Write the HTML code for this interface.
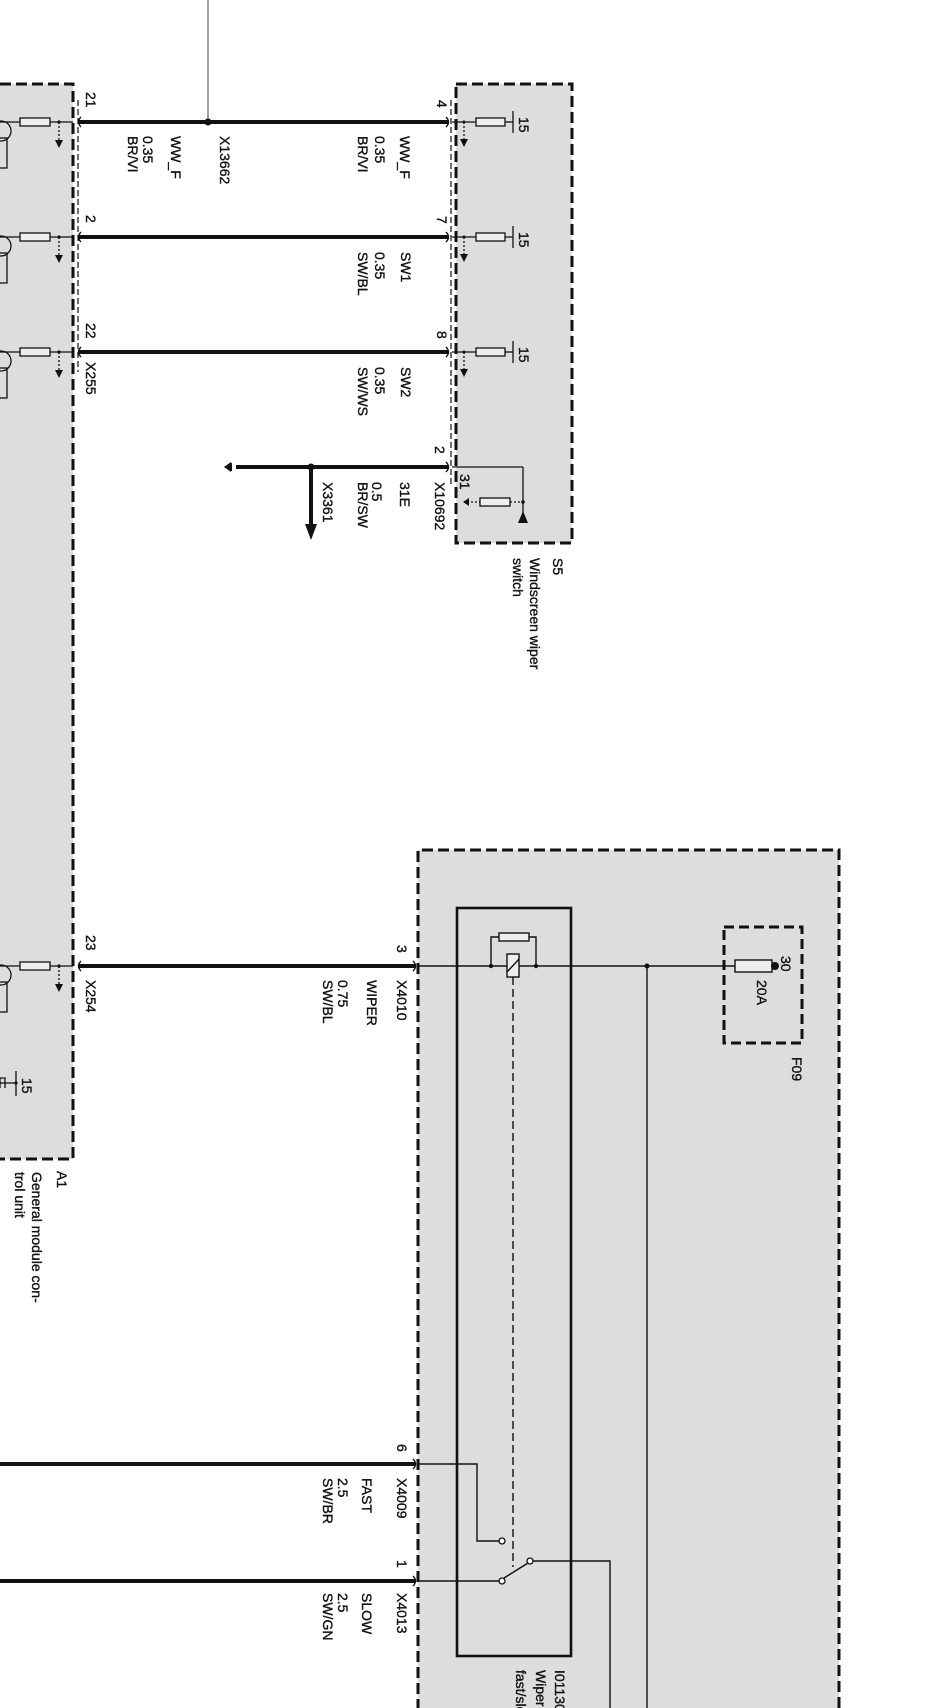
<!DOCTYPE html>
<html>
<head>
<meta charset="utf-8">
<style>
  html,body{margin:0;padding:0;background:#fff;}
  svg{display:block;}
  text{font-family:"Liberation Sans",Arial,sans-serif;font-size:14px;fill:#111;stroke:#111;stroke-width:0.35;}
</style>
</head>
<body>
<svg width="948" height="1708" viewBox="0 0 948 1708" xmlns="http://www.w3.org/2000/svg">
  <!-- ===== A1 box ===== -->
  <rect x="-5" y="84" width="78" height="1075" fill="#dddddd"/>
  <path d="M0 84 H73 V1159 H0" fill="none" stroke="#111" stroke-width="3" stroke-dasharray="11 5"/>

  <!-- A1 internal pin circuits -->
  <g stroke="#111" stroke-width="1.3" fill="none">
    <line x1="0" y1="122" x2="73" y2="122"/>
    <circle cx="1" cy="131" r="10"/>
    <rect x="-2" y="138" width="9" height="30"/>
    <rect x="20" y="118" width="30" height="8" fill="#eeeeee"/>
    <line x1="59" y1="122" x2="59" y2="140" stroke-dasharray="2 2"/>
    <line x1="0" y1="237" x2="73" y2="237"/>
    <circle cx="1" cy="246" r="10"/>
    <rect x="-2" y="253" width="9" height="30"/>
    <rect x="20" y="233" width="30" height="8" fill="#eeeeee"/>
    <line x1="59" y1="237" x2="59" y2="255" stroke-dasharray="2 2"/>
    <line x1="0" y1="352" x2="73" y2="352"/>
    <circle cx="1" cy="361" r="10"/>
    <rect x="-2" y="368" width="9" height="30"/>
    <rect x="20" y="348" width="30" height="8" fill="#eeeeee"/>
    <line x1="59" y1="352" x2="59" y2="370" stroke-dasharray="2 2"/>
    <line x1="0" y1="966" x2="73" y2="966"/>
    <circle cx="1" cy="975" r="10"/>
    <rect x="-2" y="982" width="9" height="30"/>
    <rect x="20" y="962" width="30" height="8" fill="#eeeeee"/>
    <line x1="59" y1="966" x2="59" y2="984" stroke-dasharray="2 2"/>
    <line x1="0" y1="1083" x2="16" y2="1083"/>
    <line x1="16" y1="1071" x2="16" y2="1096"/>
    <path d="M0 1088 V1078 H5 V1088"/>
  </g>
  <g fill="#111">
    <polygon points="55,140 63,140 59,148"/>
    <polygon points="55,255 63,255 59,263"/>
    <polygon points="55,370 63,370 59,378"/>
    <polygon points="55,984 63,984 59,992"/>
    <circle cx="59" cy="122" r="1.6"/>
    <circle cx="59" cy="237" r="1.6"/>
    <circle cx="59" cy="352" r="1.6"/>
    <circle cx="59" cy="966" r="1.6"/>
    <circle cx="16" cy="1083" r="1.6"/>
  </g>

  <line x1="78" y1="100" x2="78" y2="372" stroke="#111" stroke-width="1.2" stroke-dasharray="6 3"/>
  <line x1="451" y1="100" x2="451" y2="485" stroke="#111" stroke-width="1.2" stroke-dasharray="6 3"/>

  <!-- ===== S5 box ===== -->
  <rect x="456" y="84" width="116" height="459" fill="#dddddd"/>
  <rect x="456" y="84" width="116" height="459" fill="none" stroke="#111" stroke-width="3" stroke-dasharray="11 5"/>

  <g stroke="#111" stroke-width="1.3" fill="none">
    <line x1="452" y1="122" x2="476" y2="122"/>
    <rect x="476" y="118" width="29" height="8" fill="#eeeeee"/>
    <line x1="505" y1="122" x2="513" y2="122"/>
    <line x1="513" y1="111" x2="513" y2="133"/>
    <line x1="464" y1="122" x2="464" y2="139" stroke-dasharray="2 2"/>
    <line x1="452" y1="237" x2="476" y2="237"/>
    <rect x="476" y="233" width="29" height="8" fill="#eeeeee"/>
    <line x1="505" y1="237" x2="513" y2="237"/>
    <line x1="513" y1="226" x2="513" y2="248"/>
    <line x1="464" y1="237" x2="464" y2="254" stroke-dasharray="2 2"/>
    <line x1="452" y1="352" x2="476" y2="352"/>
    <rect x="476" y="348" width="29" height="8" fill="#eeeeee"/>
    <line x1="505" y1="352" x2="513" y2="352"/>
    <line x1="513" y1="341" x2="513" y2="363"/>
    <line x1="464" y1="352" x2="464" y2="369" stroke-dasharray="2 2"/>
    <line x1="452" y1="467" x2="523" y2="467"/>
    <line x1="523" y1="467" x2="523" y2="514"/>
    <line x1="467" y1="502" x2="480" y2="502" stroke-dasharray="2 2"/>
    <rect x="480" y="498" width="30" height="8" fill="#eeeeee"/>
    <line x1="510" y1="502" x2="523" y2="502" stroke-dasharray="2 2"/>
  </g>
  <g fill="#111">
    <polygon points="460,139 468,139 464,147"/>
    <polygon points="460,254 468,254 464,262"/>
    <polygon points="460,369 468,369 464,377"/>
    <polygon points="518,523 528,523 523,511"/>
    <polygon points="463,502 469,498 469,506"/>
    <circle cx="523" cy="502" r="1.8"/>
    <circle cx="464" cy="122" r="1.5"/>
    <circle cx="464" cy="237" r="1.5"/>
    <circle cx="464" cy="352" r="1.5"/>
  </g>

  <!-- ===== Wiper relay box ===== -->
  <rect x="418" y="850" width="421" height="870" fill="#dddddd"/>
  <path d="M418 1710 V850 H839 V1710" fill="none" stroke="#111" stroke-width="3" stroke-dasharray="11 5"/>
  <rect x="457" y="908" width="114" height="748" fill="none" stroke="#111" stroke-width="2.6"/>

  <g stroke="#111" stroke-width="1.4" fill="none">
    <line x1="418" y1="966" x2="735" y2="966"/>
    <line x1="647" y1="966" x2="647" y2="1710"/>
    <path d="M491 966 V937 H499"/>
    <path d="M536 966 V937 H529"/>
    <rect x="499" y="933" width="30" height="8" fill="#eeeeee"/>
    <rect x="507" y="954" width="12" height="23" fill="#eeeeee"/>
    <line x1="507" y1="972" x2="519" y2="959"/>
    <line x1="513" y1="977" x2="513" y2="1567" stroke-dasharray="8 4"/>
    <path d="M418 1464 H477 V1541 H499"/>
    <line x1="418" y1="1581" x2="499" y2="1581"/>
    <line x1="504" y1="1578" x2="528" y2="1563"/>
    <path d="M533 1561 H610 V1710"/>
  </g>
  <g fill="#fff" stroke="#111" stroke-width="1.3">
    <circle cx="502" cy="1541" r="3"/>
    <circle cx="502" cy="1581" r="3"/>
    <circle cx="530" cy="1561" r="3"/>
  </g>
  <g fill="#111">
    <circle cx="647" cy="966" r="2.5"/>
    <circle cx="491" cy="966" r="2.2"/>
    <circle cx="536" cy="966" r="2.2"/>
  </g>

  <!-- Fuse F09 -->
  <rect x="724" y="927" width="78" height="116" fill="none" stroke="#111" stroke-width="3" stroke-dasharray="10 5"/>
  <rect x="735" y="960" width="37" height="12" fill="#eeeeee" stroke="#111" stroke-width="1.4"/>
  <circle cx="775" cy="966" r="4" fill="#111"/>

  <!-- ===== Thick wires ===== -->
  <g stroke="#111" stroke-width="4" fill="none">
    <line x1="79" y1="122" x2="448" y2="122"/>
    <line x1="79" y1="237" x2="448" y2="237"/>
    <line x1="79" y1="352" x2="448" y2="352"/>
    <line x1="236" y1="467" x2="448" y2="467"/>
    <line x1="311" y1="467" x2="311" y2="526"/>
    <line x1="79" y1="966" x2="415" y2="966"/>
    <line x1="0" y1="1464" x2="415" y2="1464"/>
    <line x1="0" y1="1581" x2="415" y2="1581"/>
  </g>
  <line x1="208" y1="0" x2="208" y2="120" stroke="#888" stroke-width="1.6"/>
  <circle cx="208" cy="122" r="3.5" fill="#111"/>
  <circle cx="311" cy="467" r="3.5" fill="#111"/>
  <polygon points="305,524 317,524 311,540" fill="#111"/>
  <polygon points="224,467 231,462 231,472" fill="#111"/>
  <line x1="231" y1="463" x2="231" y2="471" stroke="#111" stroke-width="2"/>

  <g stroke="#111" stroke-width="1.4" fill="none">
    <path d="M81 117 Q76 122 81 127"/>
    <path d="M81 232 Q76 237 81 242"/>
    <path d="M81 347 Q76 352 81 357"/>
    <path d="M81 961 Q76 966 81 971"/>
    <path d="M446 117 Q451 122 446 127"/>
    <path d="M446 232 Q451 237 446 242"/>
    <path d="M446 347 Q451 352 446 357"/>
    <path d="M446 462 Q451 467 446 472"/>
    <path d="M413 961 Q418 966 413 971"/>
    <path d="M413 1459 Q418 1464 413 1469"/>
    <path d="M413 1576 Q418 1581 413 1586"/>
  </g>

  <!-- ===== Labels ===== -->
  <g>
    <text transform="translate(86,92) rotate(90)">21</text>
    <text transform="translate(86,215) rotate(90)">2</text>
    <text transform="translate(86,323) rotate(90)">22</text>
    <text transform="translate(86,362) rotate(90)">X255</text>
    <text transform="translate(86,935) rotate(90)">23</text>
    <text transform="translate(86,980) rotate(90)">X254</text>

    <text transform="translate(171,136) rotate(90)">WW_F</text>
    <text transform="translate(143,136) rotate(90)">0.35</text>
    <text transform="translate(128,136) rotate(90)">BR/VI</text>
    <text transform="translate(220,136) rotate(90)">X13662</text>

    <text transform="translate(437,100) rotate(90)">4</text>
    <text transform="translate(400,136) rotate(90)">WW_F</text>
    <text transform="translate(375,136) rotate(90)">0.35</text>
    <text transform="translate(358,136) rotate(90)">BR/VI</text>

    <text transform="translate(437,216) rotate(90)">7</text>
    <text transform="translate(401,252) rotate(90)">SW1</text>
    <text transform="translate(375,252) rotate(90)">0.35</text>
    <text transform="translate(358,252) rotate(90)">SW/BL</text>

    <text transform="translate(437,331) rotate(90)">8</text>
    <text transform="translate(401,367) rotate(90)">SW2</text>
    <text transform="translate(375,367) rotate(90)">0.35</text>
    <text transform="translate(358,367) rotate(90)">SW/WS</text>

    <text transform="translate(519,117) rotate(90)">15</text>
    <text transform="translate(519,232) rotate(90)">15</text>
    <text transform="translate(519,347) rotate(90)">15</text>

    <text transform="translate(435,446) rotate(90)">2</text>
    <text transform="translate(460,474) rotate(90)">31</text>
    <text transform="translate(435,482) rotate(90)">X10692</text>
    <text transform="translate(400,482) rotate(90)">31E</text>
    <text transform="translate(372,482) rotate(90)">0.5</text>
    <text transform="translate(358,482) rotate(90)">BR/SW</text>
    <text transform="translate(323,482) rotate(90)">X3361</text>

    <text transform="translate(553,558) rotate(90)">S5</text>
    <text transform="translate(530,558) rotate(90)">Windscreen wiper</text>
    <text transform="translate(513,558) rotate(90)">switch</text>

    <text transform="translate(57,1171) rotate(90)">A1</text>
    <text transform="translate(32,1172) rotate(90)">General module con-</text>
    <text transform="translate(15,1172) rotate(90)">trol unit</text>
    <text transform="translate(22,1078) rotate(90)">15</text>

    <text transform="translate(397,945) rotate(90)">3</text>
    <text transform="translate(397,980) rotate(90)">X4010</text>
    <text transform="translate(367,980) rotate(90)">WIPER</text>
    <text transform="translate(338,980) rotate(90)">0.75</text>
    <text transform="translate(323,980) rotate(90)">SW/BL</text>

    <text transform="translate(781,956) rotate(90)">30</text>
    <text transform="translate(757,980) rotate(90)">20A</text>
    <text transform="translate(792,1057) rotate(90)">F09</text>

    <text transform="translate(397,1444) rotate(90)">6</text>
    <text transform="translate(397,1478) rotate(90)">X4009</text>
    <text transform="translate(362,1478) rotate(90)">FAST</text>
    <text transform="translate(338,1478) rotate(90)">2.5</text>
    <text transform="translate(323,1478) rotate(90)">SW/BR</text>

    <text transform="translate(397,1560) rotate(90)">1</text>
    <text transform="translate(397,1593) rotate(90)">X4013</text>
    <text transform="translate(362,1593) rotate(90)">SLOW</text>
    <text transform="translate(338,1593) rotate(90)">2.5</text>
    <text transform="translate(323,1593) rotate(90)">SW/GN</text>

    <text transform="translate(555,1670) rotate(90)">I01130</text>
    <text transform="translate(536,1670) rotate(90)">Wiper</text>
    <text transform="translate(516,1670) rotate(90)">fast/slow relay</text>
  </g>
</svg>
</body>
</html>
